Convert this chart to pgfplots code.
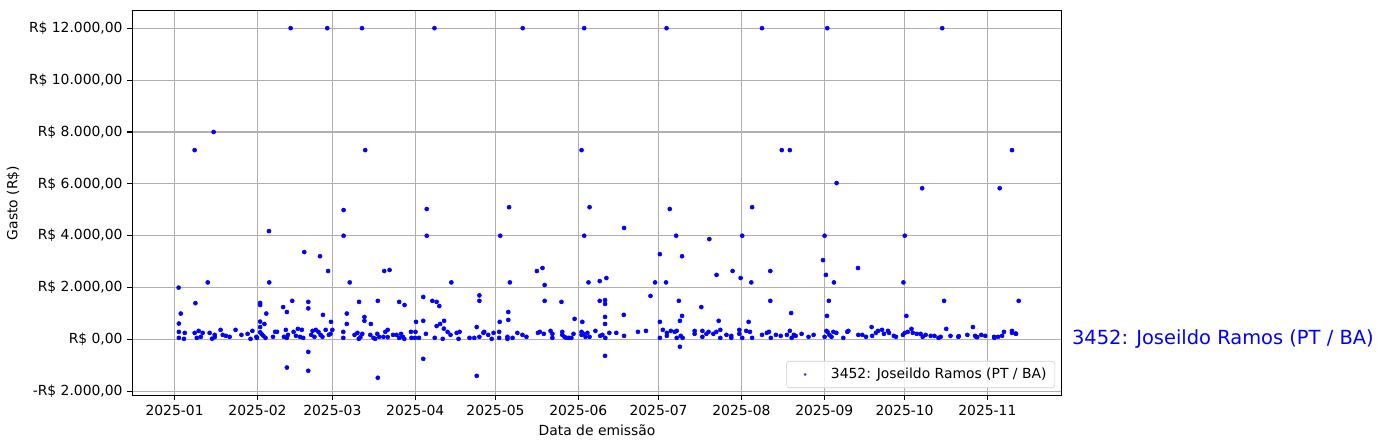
\documentclass[border=0pt]{standalone}
\usepackage{fontspec}
\setmainfont{DejaVu Sans}
\usepackage{pgfplots}
\pgfplotsset{compat=1.18}
\usepackage{pgfplotstable}
\definecolor{gridgray}{HTML}{B0B0B0}
\definecolor{legedge}{HTML}{CCCCCC}

\pgfplotstableread{
x y
1.5 2000
2.3 1000
1.6 615
1.6 295
1.6 65
3.8 256
3.5 26
7.5 7300
7.8 1400
12.4 2200
14.6 8000
7.5 256
9.0 333
10.5 256
8.3 64
9.8 103
13.1 256
15.0 179
15.0 90
14.0 30
17.2 372
18.0 179
19.2 141
20.6 103
22.8 372
25.0 179
27.3 218
28.4 26
29.1 333
30.6 103
30.8 64
32.0 1410
32.0 1330
34.3 1000
32.0 690
33.6 600
32.0 480
32.0 280
32.5 218
33.2 141
34.0 64
35.3 4180
35.4 2200
36.8 103
37.6 295
38.3 295
40.6 1250
42.0 1060
42.0 -1080
41.6 372
40.9 103
42.4 179
42.0 64
43.4 12000
44.0 1490
44.5 295
45.4 141
46.1 410
46.9 103
47.6 372
48.1 64
48.5 3370
50.0 1450
50.0 1200
50.0 -475
50.0 -1205
51.6 333
52.8 372
53.8 295
54.6 179
55.3 103
51.1 179
52.3 103
54.4 3210
55.5 950
56.5 372
57.1 12000
57.4 2640
57.7 179
58.3 218
58.5 680
59.0 372
63.2 4990
63.2 4000
63.1 295
63.1 64
64.4 1000
64.4 600
65.5 2200
67.3 179
68.4 256
68.9 26
69.0 1450
69.5 90
70.1 12000
70.2 218
71.0 870
71.0 720
71.3 7300
73.2 179
73.4 600
74.4 64
75.0 26
75.8 218
76.0 1490
76.0 -1475
76.5 103
78.1 103
78.4 2640
78.8 295
79.7 372
79.7 90
80.4 2680
81.7 179
83.0 179
84.0 1450
84.0 64
84.7 218
85.4 103
85.9 26
86.0 1330
88.4 295
88.6 64
89.9 64
90.1 295
90.3 680
91.4 64
93.0 1640
93.0 720
93.0 -745
94.0 218
94.3 5030
94.3 4000
96.4 1490
97.2 12000
97.3 64
98.0 1450
98.0 520
99.0 1290
99.3 600
100.3 26
100.7 420
100.8 720
102.1 295
103.2 179
103.5 2200
105.5 256
106.2 26
106.6 295
110.3 64
112.1 64
113.0 480
113.0 -1400
114.0 1700
114.0 1490
114.0 103
115.5 256
115.8 295
117.3 179
118.6 26
119.3 256
121.4 295
121.4 64
121.6 680
121.8 4000
124.5 103
124.5 26
124.8 1060
124.8 755
125.1 5100
125.4 2200
126.4 64
128.2 256
130.1 179
130.2 12000
131.6 103
135.5 2640
135.9 256
136.6 295
137.6 2755
138.1 218
138.4 2100
138.4 1490
140.6 333
141.3 218
141.3 64
144.7 1450
145.0 295
145.0 179
145.8 103
146.5 64
147.4 64
148.4 64
149.2 218
149.6 795
152.2 7300
152.2 295
152.2 179
152.5 680
152.9 218
153.2 12000
153.2 4000
153.7 103
154.4 256
154.8 2200
155.2 5100
155.2 103
157.4 333
159.0 2250
159.0 1490
159.2 141
160.0 179
161.0 1520
161.0 1370
161.0 870
161.0 600
161.0 -630
161.1 64
161.5 2370
162.6 256
165.2 256
168.0 950
168.1 4300
168.1 141
173.3 295
176.3 333
178.0 1680
179.7 2200
181.5 3290
181.5 680
181.5 65
182.6 372
183.8 2200
184.0 12000
184.1 256
184.1 141
185.2 5030
185.6 333
187.1 295
187.6 4000
187.8 333
187.8 64
188.6 1490
189.0 720
189.0 -280
189.3 141
189.8 3210
189.8 910
190.0 64
194.5 333
194.5 218
197.0 1250
197.4 333
197.4 103
198.9 218
199.7 295
200.0 3870
201.5 218
202.6 295
202.7 2490
203.5 720
204.1 372
204.1 64
206.4 179
208.2 141
208.2 64
208.7 2640
211.2 372
211.2 218
211.7 2370
212.3 4000
212.3 64
213.8 333
214.7 680
215.2 295
215.7 2200
216.0 5100
216.0 64
219.7 12000
219.7 179
221.5 256
222.3 295
222.8 2640
222.8 1490
223.0 64
224.9 179
226.7 141
227.1 7300
229.0 179
230.1 7300
230.1 333
230.6 1020
230.8 64
231.6 179
232.3 141
234.5 218
237.1 103
239.0 179
242.5 3060
243.1 4000
243.1 103
243.6 2490
243.8 333
244.0 910
244.1 12000
244.2 295
244.7 1490
244.9 179
245.7 103
246.4 295
246.6 2200
247.5 256
247.6 6030
250.1 64
251.6 295
252.0 333
255.6 2755
255.7 179
257.2 179
258.6 103
260.7 480
260.9 141
262.3 256
263.1 333
264.6 372
265.3 218
266.8 333
267.2 256
269.0 141
269.8 103
272.4 179
272.6 2200
273.1 4000
273.1 256
273.7 910
274.2 295
275.6 410
276.1 256
277.6 218
279.0 218
279.6 5830
279.8 103
280.9 179
282.8 141
284.2 141
285.7 64
286.5 103
287.1 12000
287.8 1490
288.6 410
290.2 141
293.1 103
293.3 127
296.5 179
298.6 480
299.4 141
299.8 103
300.2 90
301.7 179
303.2 141
306.5 103
306.6 64
308.0 103
308.6 5830
309.5 141
310.2 295
313.2 7300
313.2 333
313.2 256
314.6 230
314.7 218
315.7 1490
}\gastos

\begin{document}
\begin{tikzpicture}
\path[use as bounding box] (-95.3pt,-37.9pt) rectangle (899.1pt,284.6pt);
\begin{axis}[
  at={(0pt,0pt)}, anchor=south west,
  scale only axis, width=669.2pt, height=276.9pt,
  xmin=-15.8, xmax=331.8, ymin=-2149, ymax=12674,
  xtick={0,31,59,90,120,151,181,212,243,273,304},
  xticklabels={2025-01,2025-02,2025-03,2025-04,2025-05,2025-06,2025-07,2025-08,2025-09,2025-10,2025-11},
  ytick={-2000,0,2000,4000,6000,8000,10000,12000},
  yticklabels={{-R\$ 2.000,00},{R\$ 0,00},{R\$ 2.000,00},{R\$ 4.000,00},{R\$ 6.000,00},{R\$ 8.000,00},{R\$ 10.000,00},{R\$ 12.000,00}},
  grid=major, major grid style={gridgray, line width=0.8pt},
  axis line style={line width=0.8pt, black},
  tick style={line width=0.8pt, black},
  tick align=outside, major tick length=3.5pt,
  xtick pos=bottom, ytick pos=left,
  axis on top,
  clip=false,
  tick label style={font=\fontsize{10}{12}\selectfont},
  label style={font=\fontsize{10}{12}\selectfont},
  xlabel={Data de emissão},
  ylabel={Gasto (R\$)},
  legend style={at={(rel axis cs:1,0)}, anchor=south east, xshift=-4.8pt, yshift=5.2pt,
    draw=legedge, rounded corners=2pt, fill=white, fill opacity=0.8, text opacity=1,
    font=\fontsize{10}{12}\selectfont, inner xsep=4pt, inner ysep=3pt},
  legend cell align=left,
  legend image code/.code={\path[draw=none,fill=none] (0pt,0pt) -- (25.9pt,0pt); \fill[blue,draw=none] (9.3pt,0pt) circle (1.1pt);},
]
\addplot[only marks, mark=*, mark size=1.45pt, color=blue, mark options={draw=blue, fill=blue}] table[x=x,y=y] {\gastos};
\addlegendentry{3452: Joseildo Ramos (PT / BA)}
\node[anchor=west, text=blue, font=\fontsize{14}{17}\selectfont, xshift=3.9pt] at (axis cs:331.8,0) {3452: Joseildo Ramos (PT / BA)};
\end{axis}
\end{tikzpicture}
\end{document}
